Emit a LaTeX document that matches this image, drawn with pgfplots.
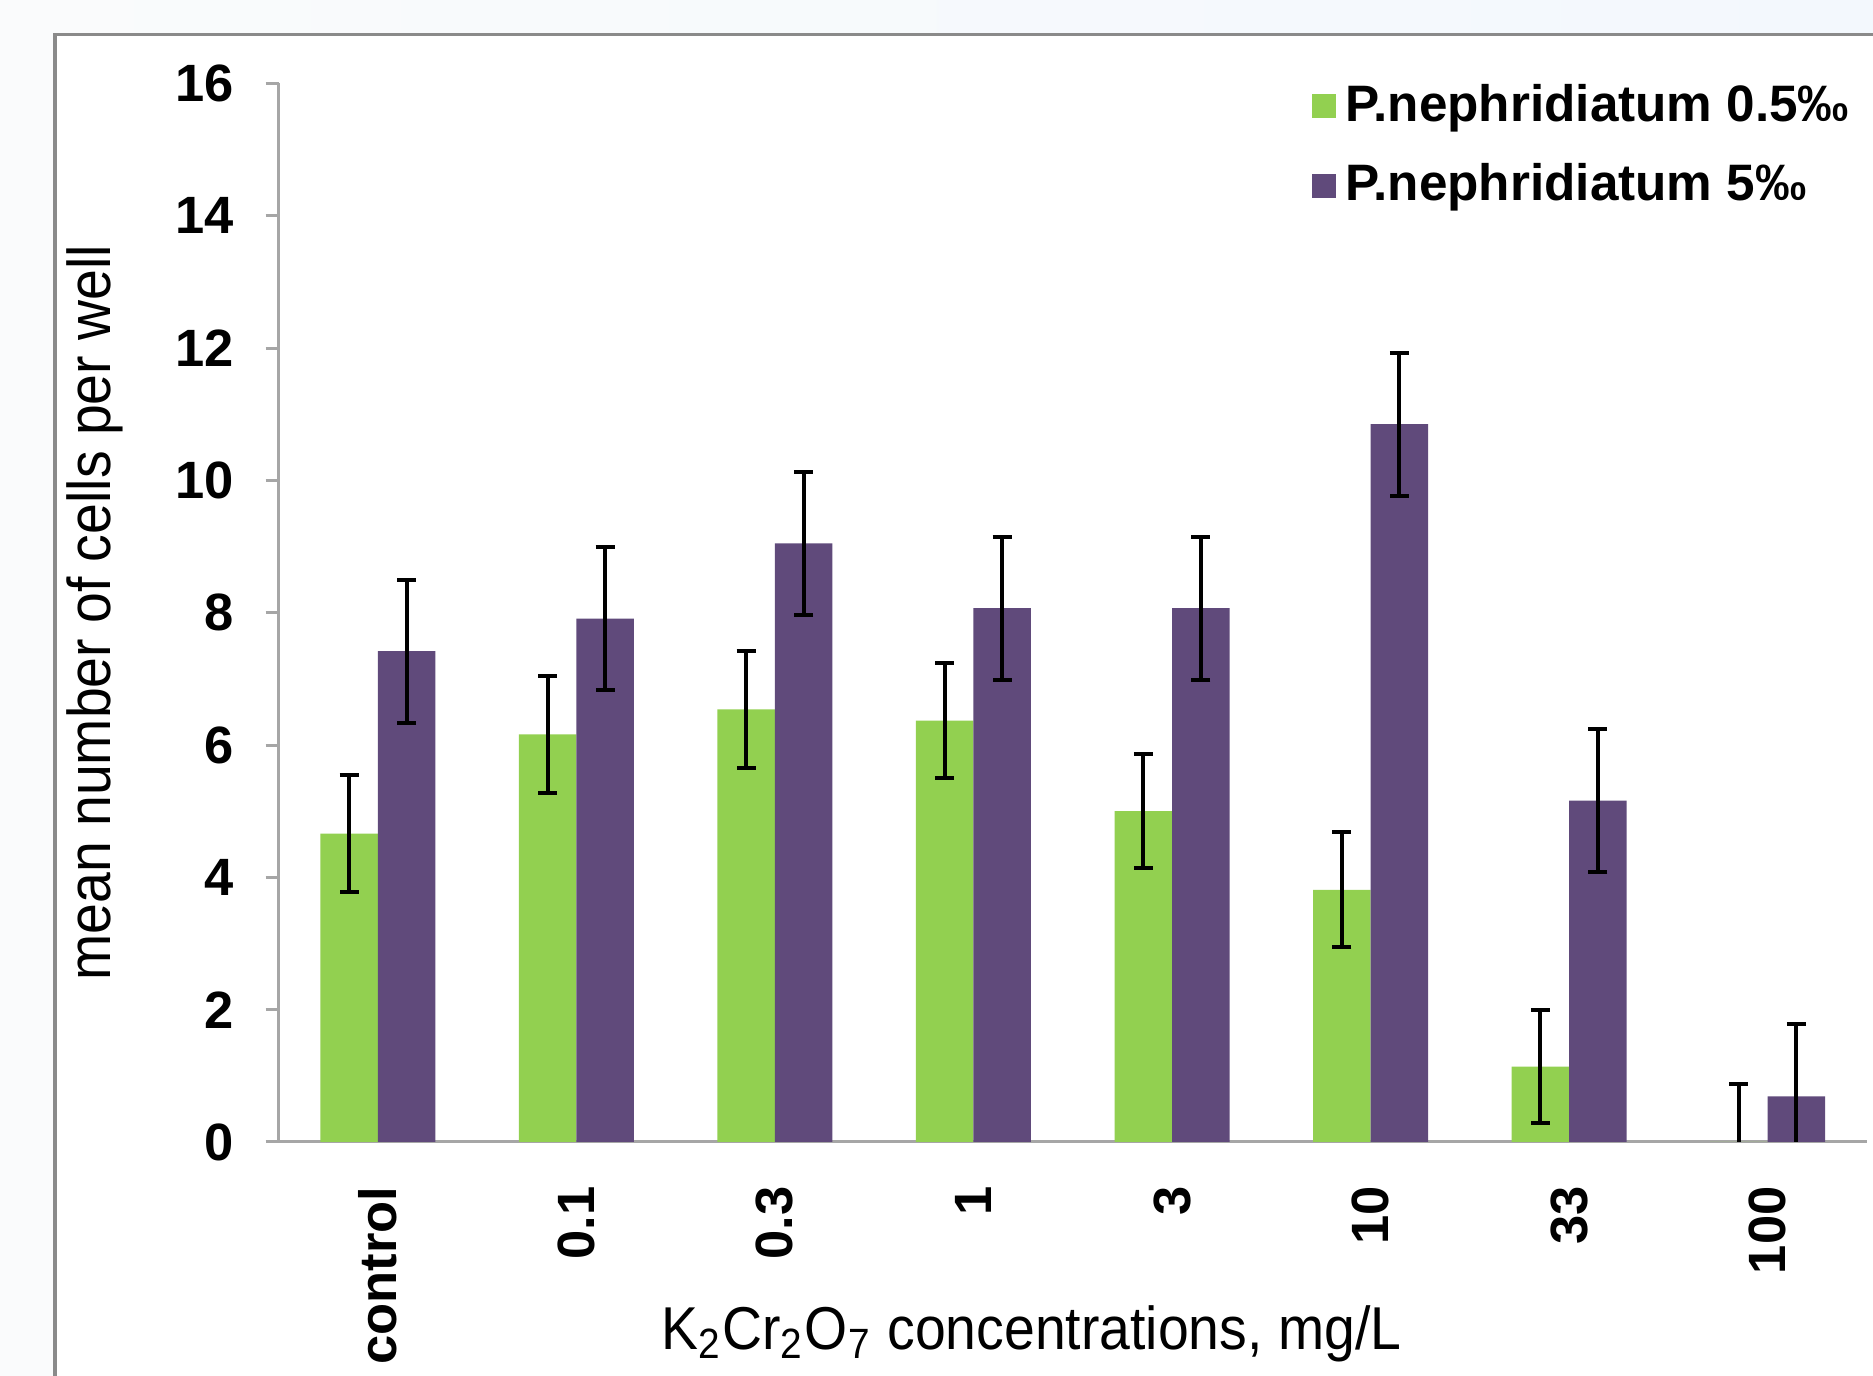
\documentclass[border=0pt]{standalone}
\usepackage{fontspec}
\setmainfont{Liberation Sans}
\newfontfamily\narrowfont[FakeStretch=0.915]{Liberation Sans}
\usepackage{pgfplots}
\pgfplotsset{compat=1.18}
\usepackage{pgfplotstable}

\definecolor{bargreen}{HTML}{92D050}
\definecolor{barpurple}{HTML}{604A7B}
\definecolor{axisgray}{HTML}{A6A6A6}
\definecolor{framegray}{HTML}{8A8A8A}
\definecolor{bgleft}{RGB}{250,251,252}
\definecolor{bgright}{RGB}{243,248,253}

% mean and error for each concentration
\pgfplotstableread{
x y err
0 4.66 0.88
1 6.16 0.88
2 6.54 0.88
3 6.37 0.87
4 5.00 0.86
5 3.81 0.87
6 1.14 0.85
7 0.00 0.88
}\lowsalt
\pgfplotstableread{
x y err
0 7.42 1.08
1 7.91 1.08
2 9.05 1.08
3 8.07 1.08
4 8.07 1.08
5 10.85 1.08
6 5.16 1.08
7 0.69 1.10
}\highsalt

\begin{document}
\begin{tikzpicture}
\useasboundingbox (0pt,0pt) rectangle (374.6pt,275.2pt);
\shade[left color=bgleft, right color=bgright] (0pt,0pt) rectangle (374.6pt,275.2pt);
\begin{scope}
\clip (0pt,0pt) rectangle (374.6pt,275.2pt);
\draw[framegray, line width=0.7pt, fill=white] (11.0pt,-10pt) rectangle (390pt,268.3pt);
\begin{axis}[
    at={(55.7pt,46.8pt)}, anchor=south west,
    scale only axis, width=317.7pt, height=211.7pt,
    ybar=0pt, bar width=11.5pt,
    xmin=-0.5, xmax=7.5, ymin=0, ymax=16,
    axis x line=bottom, axis y line=left,
    axis line style={axisgray, line width=0.6pt, -},
    xtick=data, xticklabels={control,0.1,0.3,1,3,10,33,100},
    ytick={0,2,...,16},
    x tick style={draw=none},
    y tick style={axisgray, line width=0.6pt},
    tick align=outside, major tick length=2.6pt,
    ticklabel style={font=\bfseries\fontsize{10.5}{12}\selectfont, inner sep=0pt},
    xticklabel style={rotate=90, anchor=east},
    xticklabel shift=6.1pt, yticklabel shift=6.1pt,
    /pgf/number format/assume math mode=true,
    ylabel={mean number of cells per well},
    xlabel={K\textsubscript{2}Cr\textsubscript{2}O\textsubscript{7} concentrations, mg/L},
    every axis y label/.style={at={(axis description cs:-0.1155,0.5)}, rotate=90,
        anchor=center, font=\narrowfont\fontsize{12.1}{14}\selectfont},
    every axis x label/.style={at={(axis description cs:0.474,-0.1810)},
        anchor=center, font=\narrowfont\fontsize{12.1}{14}\selectfont},
    legend style={at={(axis description cs:0.650,1.01)}, anchor=north west,
        draw=none, fill=none, inner sep=0pt, row sep=3pt,
        font=\bfseries\fontsize{10.25}{12}\selectfont},
    legend cell align=left,
]
\addplot[fill=bargreen, draw=none,
    legend image code/.code={\fill[bargreen] (0pt,-2.4pt) rectangle (4.8pt,2.4pt);},
    error bars/.cd, y dir=both, y explicit,
    error bar style={black, line width=0.8pt},
    error mark options={rotate=90, black, mark size=1.9pt, line width=0.8pt}]
    table[x=x, y=y, y error=err] {\lowsalt};
\addlegendentry{P.nephridiatum 0.5‰}
\addplot[fill=barpurple, draw=none,
    legend image code/.code={\fill[barpurple] (0pt,-2.4pt) rectangle (4.8pt,2.4pt);},
    error bars/.cd, y dir=both, y explicit,
    error bar style={black, line width=0.8pt},
    error mark options={rotate=90, black, mark size=1.9pt, line width=0.8pt}]
    table[x=x, y=y, y error=err] {\highsalt};
\addlegendentry{P.nephridiatum 5‰}
\end{axis}
\end{scope}
\end{tikzpicture}
\end{document}
